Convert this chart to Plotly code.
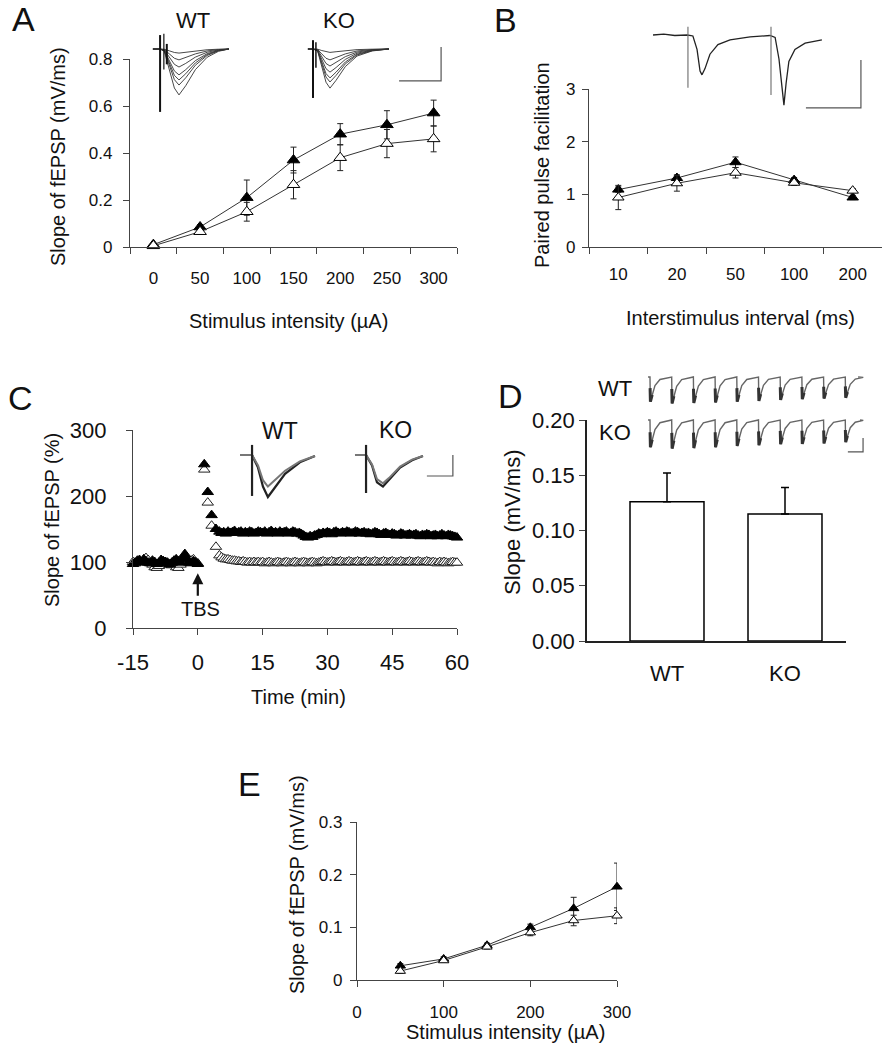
import plotly.graph_objects as go

W, H = 888, 1050
FONT = "Arial, 'Liberation Sans', sans-serif"


def fx(p):
    return p / W


def fy(p):
    return 1 - p / H


# ---------------- Data ----------------
# Panel A: input/output curve
a_intensity = ["0", "50", "100", "150", "200", "250", "300"]
a_filled = [0.01, 0.085, 0.21, 0.37, 0.48, 0.52, 0.57]
a_filled_err = [0.0, 0.01, 0.075, 0.055, 0.045, 0.06, 0.055]
a_open = [0.005, 0.065, 0.15, 0.265, 0.38, 0.44, 0.46]
a_open_err = [0.0, 0.01, 0.04, 0.06, 0.055, 0.06, 0.055]

# Panel B: paired pulse facilitation
b_interval = ["10", "20", "50", "100", "200"]
b_filled = [1.09, 1.31, 1.61, 1.27, 0.94]
b_filled_err = [0.05, 0.06, 0.1, 0.05, 0.04]
b_open = [0.94, 1.21, 1.41, 1.22, 1.07]
b_open_err = [0.23, 0.15, 0.1, 0.05, 0.04]

# Panel C: LTP time course (% baseline)
c_ticks = [-15, 0, 15, 30, 45, 60]
c_tick_text = ["-15", "0", "15", "30", "45", "60"]
c_base_t = [-15, -14.5, -14, -13.5, -13, -12.5, -12, -11.5, -11, -10.5, -10, -9.5,
            -9, -8.5, -8, -7.5, -7, -6.5, -6, -5.5, -5, -4.5, -4, -3.5, -3, -2.5,
            -2, -1.5, -1, -0.5, 0]
c_base_filled = [97, 99, 101, 103, 100, 104, 101, 99, 98, 102, 100, 97, 99, 103, 101,
                 100, 98, 96, 99, 102, 104, 101, 99, 105, 112, 104, 100, 98, 101, 99, 97]
c_base_open = [100, 98, 102, 101, 99, 104, 106, 103, 99, 96, 92, 91, 94, 98, 101, 100,
               99, 97, 95, 100, 92, 91, 96, 100, 103, 101, 99, 102, 104, 100, 98]
c_early_t = [1.5, 2.3, 3.2, 4.2]
c_early_filled = [248, 206, 171, 150]
c_early_open = [240, 190, 155, 123]
c_late_t = [5 + 0.5 * i for i in range(111)]
c_late_filled = [146, 144, 145, 143, 146, 144, 145, 147, 144,
                 145, 146, 143, 145, 144, 146, 145, 143, 144, 146,
                 145, 144, 146, 143, 145, 147, 144, 145, 143, 146,
                 144, 145, 146, 143, 144, 146, 145, 143, 144, 142,
                 140, 138, 137, 139, 138, 140, 141, 143, 142, 144,
                 143, 145, 144, 142, 145, 146, 144, 143, 145, 144,
                 146, 145, 143, 144, 146, 145, 143, 144, 145, 143,
                 144, 142, 143, 145, 144, 142, 141, 143, 144, 142,
                 141, 143, 142, 140, 141, 143, 142, 140, 141, 142,
                 140, 141, 142, 140, 139, 141, 140, 142, 141, 139,
                 140, 141, 139, 140, 142, 140, 139, 141, 140, 139,
                 138, 137]
c_late_open = [110, 107, 105, 104, 104, 103, 102, 102, 101,
               101, 100, 101, 100, 99, 100, 99, 100, 99, 100,
               99, 100, 98, 99, 100, 99, 98, 99, 100, 99,
               98, 99, 100, 99, 98, 99, 100, 99, 98, 99,
               100, 99, 98, 99, 100, 99, 98, 99, 100, 101,
               100, 99, 100, 101, 100, 99, 100, 101, 100, 99,
               100, 101, 100, 99, 100, 101, 100, 99, 100, 101,
               100, 99, 100, 101, 100, 99, 100, 101, 100, 99,
               100, 101, 100, 99, 100, 101, 100, 99, 100, 101,
               100, 99, 100, 101, 100, 99, 100, 101, 100, 99,
               100, 99, 98, 100, 99, 100, 99, 98, 99, 100,
               99, 99]

# Panel D: bar chart
d_groups = ["WT", "KO"]
d_values = [0.126, 0.115]
d_err = [0.026, 0.024]

# Panel E
e_intensity = [50, 100, 150, 200, 250, 300]
e_filled = [0.027, 0.04, 0.066, 0.1, 0.136, 0.177]
e_filled_err = [0.004, 0.004, 0.004, 0.006, 0.021, 0.045]
e_open = [0.017, 0.037, 0.063, 0.09, 0.113, 0.122]
e_open_err = [0.004, 0.003, 0.004, 0.006, 0.01, 0.015]

# ---- Example traces (insets), ms / mV ----
a_wave_shape = [0, 0, 0.05, 0.45, 0.85, 1.0, 0.8, 0.45, 0.18, 0.05, 0]
a_wt_t = [0.7, 2.4, 3.4, 4.6, 5.8, 6.9, 8.5, 10.8, 13.6, 16.3, 18.8]
a_wt_peaks = [0.12, 0.32, 0.53, 0.76, 0.91, 1.06, 1.35]
a_ko_t = [0.7, 1.9, 3.0, 4.0, 5.0, 5.95, 7.4, 9.6, 12.4, 16.0, 20.0]
a_ko_peaks = [0.1, 0.32, 0.5, 0.68, 0.85, 0.97, 1.15]

b_tr1_t = [1.1, 5, 9, 13.6, 15.6, 17.1, 18.2, 18.9, 20.0, 21.8, 24.7, 29.1, 36.4, 43.6]
b_tr1_v = [0.0, 0.02, -0.01, 0.0, -0.02, -0.3, -0.75, -0.83, -0.7, -0.4, -0.2, -0.1, -0.04, -0.01]
b_tr2_t = [43.6, 45.5, 46.9, 48.4, 48.7, 49.5, 50.5, 52.7, 56.4, 62.5]
b_tr2_v = [-0.01, -0.05, -0.5, -1.2, -1.46, -1.0, -0.55, -0.3, -0.17, -0.1]

c_wt_t = [0.77, 5.4, 7.7, 9.6, 11.5, 13.8, 18.1, 23.8, 29.6]
c_wt_after = [0, 0, -0.6, -1.5, -2.0, -1.6, -0.9, -0.35, -0.05]
c_wt_before = [0, 0, -0.5, -1.2, -1.5, -1.25, -0.75, -0.3, -0.05]
c_ko_t = [1.15, 5.4, 7.7, 9.6, 11.9, 14.2, 18.5, 23.1, 27.3]
c_ko_after = [0, 0, -0.5, -1.3, -1.5, -1.2, -0.6, -0.25, -0.05]
c_ko_before = [0, 0, -0.45, -1.15, -1.35, -1.1, -0.55, -0.22, -0.05]

d_pulse_t = [2.3, 12.3, 22.3, 32.3, 42.3, 52.3, 62.3, 72.3, 82.3, 92.3]
d_wt_amp = [0.95, 1.02, 1.0, 0.98, 0.95, 0.92, 0.88, 0.85, 0.83, 0.8]
d_ko_amp = [1.05, 1.1, 1.08, 1.05, 1.0, 0.97, 0.93, 0.92, 0.9, 0.85]
d_rec_dt = [0.0, 0.15, 1.0, 2.3, 4.6, 8.3]
d_rec_frac = [0.0, 1.0, 0.7, 0.35, 0.1, 0.02]

# ---------------- Figure ----------------
fig = go.Figure()

FILLED = dict(symbol="triangle-up", color="black", line=dict(color="black", width=1))
OPEN = dict(symbol="triangle-up", color="white", line=dict(color="black", width=1))
LINE = dict(color="#333333", width=1)


def err(arr):
    return dict(type="data", array=arr, color="#222222", thickness=1, width=3, visible=True)


# A
fig.add_trace(go.Scatter(x=a_intensity, y=a_filled, mode="lines+markers", marker=dict(FILLED, size=11),
                         line=LINE, error_y=err(a_filled_err), xaxis="x", yaxis="y", cliponaxis=False))
fig.add_trace(go.Scatter(x=a_intensity, y=a_open, mode="lines+markers", marker=dict(OPEN, size=11),
                         line=LINE, error_y=err(a_open_err), xaxis="x", yaxis="y", cliponaxis=False))
# B
fig.add_trace(go.Scatter(x=b_interval, y=b_filled, mode="lines+markers", marker=dict(FILLED, size=10),
                         line=LINE, error_y=err(b_filled_err), xaxis="x2", yaxis="y2", cliponaxis=False))
fig.add_trace(go.Scatter(x=b_interval, y=b_open, mode="lines+markers", marker=dict(OPEN, size=10),
                         line=LINE, error_y=err(b_open_err), xaxis="x2", yaxis="y2", cliponaxis=False))
# C
c_t = c_base_t + c_early_t + c_late_t
fig.add_trace(go.Scatter(x=c_t, y=c_base_open + c_early_open + c_late_open, mode="markers",
                         marker=dict(symbol="triangle-up", color="white", size=10,
                                     line=dict(color="#222222", width=1)),
                         xaxis="x3", yaxis="y3", cliponaxis=False))
fig.add_trace(go.Scatter(x=c_t, y=c_base_filled + c_early_filled + c_late_filled, mode="markers",
                         marker=dict(FILLED, size=10), xaxis="x3", yaxis="y3", cliponaxis=False))
# D
fig.add_trace(go.Bar(x=d_groups, y=d_values, width=0.627,
                     marker=dict(color="white", line=dict(color="black", width=1.5)),
                     error_y=dict(type="data", array=d_err, arrayminus=[0, 0], symmetric=False,
                                  color="black", thickness=1.5, width=4),
                     xaxis="x4", yaxis="y4"))
# E
fig.add_trace(go.Scatter(x=e_intensity, y=e_filled, mode="lines+markers", marker=dict(FILLED, size=9),
                         line=LINE, error_y=err(e_filled_err), xaxis="x5", yaxis="y5", cliponaxis=False))
fig.add_trace(go.Scatter(x=e_intensity, y=e_open, mode="lines+markers", marker=dict(OPEN, size=9),
                         line=LINE, error_y=err(e_open_err), xaxis="x5", yaxis="y5", cliponaxis=False))


def ln(x, y, ax, color="#222222", width=1.0):
    fig.add_trace(go.Scatter(x=x, y=y, mode="lines", line=dict(color=color, width=width),
                             xaxis="x" + ax, yaxis="y" + ax, hoverinfo="skip"))


# A insets
for pk in a_wt_peaks:
    ln(a_wt_t, [-pk * s for s in a_wave_shape], "6", "#333333", 0.9)
ln([2.4, 2.4], [0.41, -1.85], "6", "#111111", 2)
ln([3.3, 3.3], [0.45, -0.6], "6", "#111111", 1.2)
ln([4.0, 4.0], [0.15, -0.45], "6", "#111111", 2)
for pk in a_ko_peaks:
    ln(a_ko_t, [-pk * s for s in a_wave_shape], "7", "#333333", 0.9)
ln([1.9, 1.9], [0.26, -1.44], "7", "#111111", 2)
ln([2.6, 2.6], [0.2, -0.55], "7", "#111111", 1.5)
ln([22.4, 32.4, 32.4], [-0.94, -0.94, 0.06], "7", "#555555", 1.2)

# B inset
ln(b_tr1_t, b_tr1_v, "8", "#222222", 1.3)
ln(b_tr2_t, b_tr2_v, "8", "#222222", 1.3)
ln([13.8, 13.8], [0.17, -1.10], "8", "#777777", 1.2)
ln([44.0, 44.0], [0.17, -1.25], "8", "#777777", 1.2)
ln([56.7, 76.7, 76.7], [-1.52, -1.52, -0.52], "8", "#555555", 1.2)

# C insets
ln(c_wt_t, c_wt_after, "9", "#222222", 2.2)
ln(c_wt_t, c_wt_before, "9", "#777777", 2)
ln([5.4, 5.4], [0.48, -1.95], "9", "#222222", 2.2)
ln(c_ko_t, c_ko_after, "10", "#222222", 2.2)
ln(c_ko_t, c_ko_before, "10", "#777777", 2)
ln([5.4, 5.4], [0.48, -1.81], "10", "#222222", 2.2)
ln([28.8, 38.8, 38.8], [-1.0, -1.0, 0.0], "10", "#555555", 1.2)


# D trains
def train(amps, t_start, t_end):
    xs, ys = [t_start], [0.0]
    bx, by = [], []
    for tp, a in zip(d_pulse_t, amps):
        for dt, fr in zip(d_rec_dt, d_rec_frac):
            xs.append(tp + dt)
            ys.append(-a * fr)
        bx += [tp + 0.05, tp + 0.2, tp + 1.0, None]
        by += [-0.45 * a, -a, -0.72 * a, None]
    xs.append(t_end)
    ys.append(0.0)
    return xs, ys, bx, by


for amps, ax, t_end in [(d_wt_amp, "11", 98.2), (d_ko_amp, "12", 99.1)]:
    xs, ys, bx, by = train(amps, 1.4, t_end)
    ln(xs, ys, ax, "#666666", 1.4)
    ln(bx, by, ax, "#333333", 3)
ln([93.5, 100.5, 100.5], [-1.23, -1.23, -0.69], "12", "#555555", 1.2)

# ---------------- Layout ----------------
AX = dict(showgrid=False, zeroline=False, showline=True, linecolor="#444444", linewidth=1.2,
          ticks="outside", tickcolor="#444444", tickwidth=1.2, ticklen=6, automargin=False,
          tickfont=dict(family=FONT, size=17, color="#111111"))

layout = dict(
    width=W, height=H, margin=dict(l=0, r=0, t=0, b=0, pad=0, autoexpand=False),
    paper_bgcolor="white", plot_bgcolor="rgba(0,0,0,0)", showlegend=False,
    font=dict(family=FONT, color="#111111"),
)
# A
layout["xaxis"] = dict(AX, type="category", categoryorder="array", categoryarray=a_intensity,
                       domain=[fx(130), fx(457)], anchor="y", range=[-0.5, 6.5],
                       tickson="boundaries", ticklabelstandoff=15)
layout["yaxis"] = dict(AX, domain=[fy(247), fy(59)], anchor="x", range=[0, 0.8],
                       tickvals=[0, 0.2, 0.4, 0.6, 0.8], ticktext=["0", "0.2", "0.4", "0.6", "0.8"],
                       ticklabelstandoff=7)
# B
layout["xaxis2"] = dict(AX, type="category", categoryorder="array", categoryarray=b_interval,
                        domain=[fx(589), fx(882)], anchor="y2", range=[-0.5, 4.5],
                        tickson="boundaries", ticklabelstandoff=11)
layout["yaxis2"] = dict(AX, domain=[fy(247), fy(89)], anchor="x2", range=[0, 3],
                        tickvals=[0, 1, 2, 3], ticklabelstandoff=3)
# C
AXC = dict(AX, tickfont=dict(family=FONT, size=22, color="#111111"))
layout["xaxis3"] = dict(AXC, domain=[fx(133), fx(457)], anchor="y3", range=[-15, 60],
                        tickvals=c_ticks, ticktext=c_tick_text, ticklabelstandoff=8)
layout["yaxis3"] = dict(AXC, domain=[fy(628), fy(430)], anchor="x3", range=[0, 300],
                        tickvals=[0, 100, 200, 300], ticklabelstandoff=15)
# D
layout["xaxis4"] = dict(AXC, type="category", domain=[fx(587), fx(846)], anchor="y4",
                        range=[-0.678, 1.517], ticks="", ticklabelstandoff=12, linewidth=1.5,
                        linecolor="#222222")
layout["yaxis4"] = dict(AXC, domain=[fy(641), fy(420)], anchor="x4", range=[0, 0.2],
                        tickvals=[0, 0.05, 0.1, 0.15, 0.2],
                        ticktext=["0.00", "0.05", "0.10", "0.15", "0.20"], ticklabelstandoff=0,
                        linewidth=1.5, linecolor="#222222")
# E
layout["xaxis5"] = dict(AX, domain=[fx(357), fx(617)], anchor="y5", range=[0, 300],
                        tickvals=[0, 100, 200, 300], ticklabelstandoff=10)
layout["yaxis5"] = dict(AX, domain=[fy(980), fy(822)], anchor="x5", range=[0, 0.3],
                        tickvals=[0, 0.1, 0.2, 0.3], ticktext=["0", "0.1", "0.2", "0.3"],
                        ticklabelstandoff=4)


def inset(n, x0, x1, ytop, ybot, xr, yr):
    layout["xaxis%d" % n] = dict(domain=[fx(x0), fx(x1)], range=xr, visible=False,
                                 anchor="y%d" % n, fixedrange=True, automargin=False)
    layout["yaxis%d" % n] = dict(domain=[fy(ybot), fy(ytop)], range=yr, visible=False,
                                 anchor="x%d" % n, fixedrange=True, automargin=False)


inset(6, 150, 232, 30, 115, [0, 19.52], [-1.941, 0.559])
inset(7, 305, 446, 30, 115, [0, 33.57], [-1.941, 0.559])
inset(8, 650, 865, 20, 112, [0, 78.18], [-1.604, 0.3125])
inset(9, 238, 318, 440, 500, [0, 30.77], [-2.143, 0.714])
inset(10, 352, 458, 440, 500, [0, 40.77], [-2.143, 0.714])
inset(11, 645, 870, 372, 412, [0, 103.7], [-1.346, 0.192])
inset(12, 645, 870, 415, 456, [0, 103.7], [-1.385, 0.192])


def txt(x, y, s, size, angle=0):
    return dict(x=fx(x), y=fy(y), xref="paper", yref="paper", text=s, showarrow=False,
                textangle=angle, xanchor="center", yanchor="middle",
                font=dict(family=FONT, size=size, color="#111111"))


annotations = [
    txt(23, 19, "A", 34), txt(505, 20, "B", 34), txt(20, 398, "C", 34),
    txt(511, 396, "D", 34), txt(249, 784, "E", 34),
    txt(193, 20, "WT", 22), txt(339, 20, "KO", 22),
    txt(280, 431, "WT", 23), txt(395, 430, "KO", 23),
    txt(615, 388, "WT", 22), txt(615, 432, "KO", 22),
    txt(58, 157, "Slope of fEPSP (mV/ms)", 20, -90),
    txt(288, 321, "Stimulus intensity (µA)", 20),
    txt(542, 165, "Paired pulse facilitation", 20, -90),
    txt(740, 318, "Interstimulus interval (ms)", 20),
    txt(52, 520, "Slope of fEPSP (%)", 20, -90),
    txt(298, 697, "Time (min)", 20),
    txt(512, 523, "Slope (mV/ms)", 22, -90),
    txt(297, 885, "Slope of fEPSP (mV/ms)", 20, -90),
    txt(505, 1032, "Stimulus intensity (µA)", 20),
    txt(200, 609, "TBS", 20),
    dict(x=0, y=83, xref="x3", yref="y3", text="", showarrow=True, ax=0, ay=24,
         arrowhead=2, arrowsize=1, arrowwidth=2.2, arrowcolor="#111111"),
]
layout["annotations"] = annotations

fig.update_layout(**layout)
fig.write_html("out.html", config={"displayModeBar": False},
               post_script="document.body.style.margin='0px';")
